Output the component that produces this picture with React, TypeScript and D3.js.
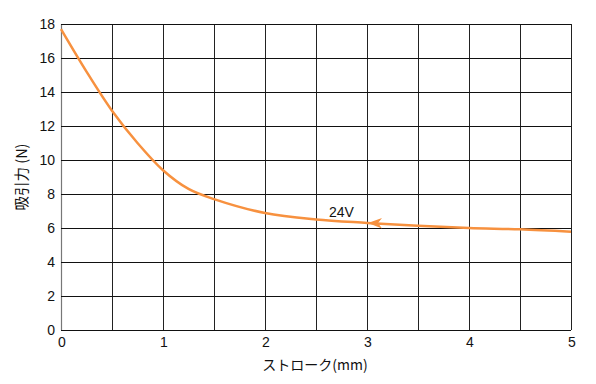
import { useEffect, useRef } from 'react';
import * as d3 from 'd3';

// stroke (mm) vs attraction force (N) at 24 V
const strokeMm = [0, 0.25, 0.5, 0.75, 1.0, 1.25, 1.5, 2, 2.5, 3, 3.5, 4, 4.5, 5];
const forceN = [17.7, 15.2, 12.9, 11.0, 9.4, 8.3, 7.7, 6.88, 6.5, 6.3, 6.13, 6.0, 5.92, 5.78];
const xTicks = [0, 1, 2, 3, 4, 5];
const xGrid = [0.5, 1, 1.5, 2, 2.5, 3, 3.5, 4, 4.5, 5];
const yTicks = [0, 2, 4, 6, 8, 10, 12, 14, 16, 18];
const seriesLabel = '24V';
const arrowAt = 3;

const W = 596;
const H = 384;
const margin = { top: 24, right: 25, bottom: 54, left: 61 };
const FONT = '"Liberation Sans", Arial, sans-serif';
const JP = '"Noto Sans CJK JP", sans-serif';
const ORANGE = '#f7913f';

export default function App() {
  const svgRef = useRef<SVGSVGElement>(null);

  useEffect(() => {
    if (!svgRef.current) return;
    const svg = d3.select(svgRef.current);
    svg.selectAll('*').remove();

    const x = d3.scaleLinear().domain([0, 5]).range([margin.left, W - margin.right]);
    const y = d3.scaleLinear().domain([0, 18]).range([H - margin.bottom, margin.top]);

    svg.append('rect').attr('width', W).attr('height', H).attr('fill', '#fff');

    // vertical grid
    svg.append('g')
      .selectAll('line')
      .data(xGrid)
      .join('line')
      .attr('x1', d => Math.round(x(d)) + 0.5)
      .attr('x2', d => Math.round(x(d)) + 0.5)
      .attr('y1', y(18))
      .attr('y2', y(0))
      .attr('stroke', '#222')
      .attr('stroke-width', 1);

    // left axis line
    svg.append('line')
      .attr('x1', Math.round(x(0)) + 0.5)
      .attr('x2', Math.round(x(0)) + 0.5)
      .attr('y1', y(18))
      .attr('y2', y(0))
      .attr('stroke', '#777')
      .attr('stroke-width', 1.2);

    // horizontal grid
    svg.append('g')
      .selectAll('line')
      .data(yTicks)
      .join('line')
      .attr('x1', x(0))
      .attr('x2', x(5))
      .attr('y1', d => Math.round(y(d)) + 0.5)
      .attr('y2', d => Math.round(y(d)) + 0.5)
      .attr('stroke', '#111')
      .attr('stroke-width', 1);

    // y tick labels
    svg.append('g')
      .selectAll('text')
      .data(yTicks)
      .join('text')
      .attr('x', x(0) - 6)
      .attr('y', d => y(d) + 5)
      .attr('text-anchor', 'end')
      .attr('font-family', FONT)
      .attr('font-size', 14)
      .attr('fill', '#111')
      .text(d => d);

    // x tick labels
    svg.append('g')
      .selectAll('text')
      .data(xTicks)
      .join('text')
      .attr('x', d => x(d) + 1)
      .attr('y', y(0) + 17)
      .attr('text-anchor', 'middle')
      .attr('font-family', FONT)
      .attr('font-size', 14)
      .attr('fill', '#111')
      .text(d => d);

    // axis titles
    svg.append('text')
      .attr('x', 315)
      .attr('y', 370)
      .attr('text-anchor', 'middle')
      .attr('font-family', JP)
      .attr('font-size', 14)
      .attr('fill', '#111')
      .text('ストローク(mm)');

    svg.append('text')
      .attr('transform', `translate(27,${(y(0) + y(18)) / 2}) rotate(-90)`)
      .attr('text-anchor', 'middle')
      .attr('font-family', JP)
      .attr('font-size', 14.5)
      .attr('fill', '#111')
      .text('吸引力 (N)');

    // curve
    const pts = strokeMm.map((s, i) => [s, forceN[i]] as [number, number]);
    const line = d3.line<[number, number]>()
      .x(d => x(d[0]))
      .y(d => y(d[1]))
      .curve(d3.curveCatmullRom.alpha(0.5));

    svg.append('path')
      .attr('d', line(pts))
      .attr('fill', 'none')
      .attr('stroke', ORANGE)
      .attr('stroke-width', 2.5);

    // arrowhead pointing left at x = 3
    const yAt = d3.scaleLinear().domain(strokeMm).range(forceN);
    const tx = x(arrowAt) + 1;
    const ty = y(yAt(arrowAt));
    const arrow = `M${tx},${ty} L${tx + 14},${ty - 5} L${tx + 10},${ty} L${tx + 14},${ty + 5.5} Z`;
    svg.append('path')
      .attr('d', arrow)
      .attr('fill', ORANGE);

    // series label
    svg.append('text')
      .attr('x', x(2.75))
      .attr('y', y(yAt(arrowAt)) - 6)
      .attr('text-anchor', 'middle')
      .attr('font-family', FONT)
      .attr('font-size', 14)
      .attr('fill', '#111')
      .text(seriesLabel);
  }, []);

  return (
    <svg
      ref={svgRef}
      width={W}
      height={H}
      style={{ position: 'absolute', left: 0, top: 0, display: 'block' }}
    />
  );
}
